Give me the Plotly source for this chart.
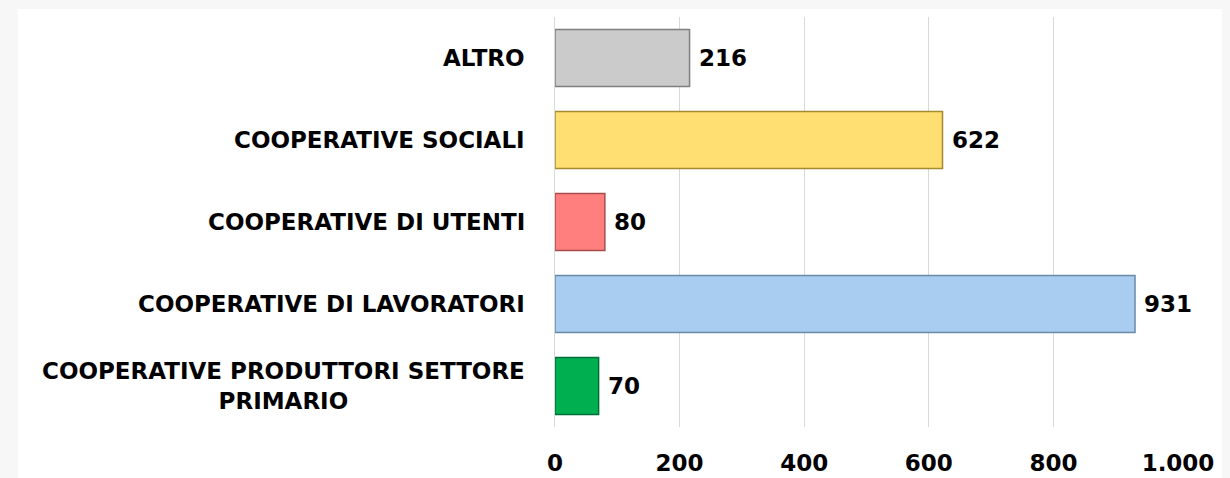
import plotly.graph_objects as go

categories = [
    "ALTRO",
    "COOPERATIVE SOCIALI",
    "COOPERATIVE DI UTENTI",
    "COOPERATIVE DI LAVORATORI",
    "COOPERATIVE PRODUTTORI SETTORE<br>PRIMARIO",
]
values = [216, 622, 80, 931, 70]
bar_colors = ["#cbcbcb", "#ffdf71", "#ff7f7f", "#a9cdf1", "#00b050"]
edge_colors = ["#7f7f7f", "#a68a2e", "#a84b4b", "#6a8aa8", "#00703a"]
x_ticks = [0, 200, 400, 600, 800, 1000]

FONT = "DejaVu Sans"
BOLD = {"family": FONT, "color": "#000000", "weight": "bold"}

fig = go.Figure()
fig.add_trace(
    go.Bar(
        x=values,
        y=categories,
        orientation="h",
        marker={"color": bar_colors, "line": {"color": edge_colors, "width": 1.5}},
        width=0.695,
        hoverinfo="skip",
    )
)

# category names, centred multi-line, right of the axis
for cat in categories:
    fig.add_annotation(
        x=0,
        xref="x domain",
        y=cat,
        yref="y",
        text=cat,
        showarrow=False,
        xanchor="right",
        xshift=-28,
        align="center",
        font={**BOLD, "size": 23},
    )

# value labels just past the bar ends
for cat, val in zip(categories, values):
    fig.add_annotation(
        x=val,
        xref="x",
        y=cat,
        yref="y",
        text=str(val),
        showarrow=False,
        xanchor="left",
        xshift=7,
        font={**BOLD, "size": 23},
    )

# white sheet over the grey page band (grey left/top strip)
fig.add_shape(
    type="rect",
    xref="paper",
    yref="paper",
    x0=(10 - 547) / 623,
    x1=(1222 - 547) / 623,
    y0=-51 / 410,
    y1=(469 - 51) / 410,
    fillcolor="#ffffff",
    line={"width": 0},
    layer="below",
)

fig.update_layout(
    width=1222,
    height=470,
    margin={"l": 547, "r": 52, "t": 9, "b": 51},
    paper_bgcolor="#f7f7f7",
    plot_bgcolor="#ffffff",
    separators=",.",
    showlegend=False,
    xaxis={
        "range": [0, 1000],
        "tickvals": x_ticks,
        "tickformat": ",",
        "showgrid": True,
        "gridcolor": "#d9d9d9",
        "gridwidth": 1,
        "zeroline": False,
        "showline": False,
        "automargin": False,
        "ticklabelstandoff": 20,
        "tickfont": {**BOLD, "size": 23},
    },
    yaxis={
        "autorange": "reversed",
        "showticklabels": False,
        "showgrid": False,
        "zeroline": False,
        "showline": True,
        "automargin": False,
        "linecolor": "#d9d9d9",
        "linewidth": 1,
    },
)

fig.write_html("out.html", post_script="document.body.style.background='#f7f7f7';")
